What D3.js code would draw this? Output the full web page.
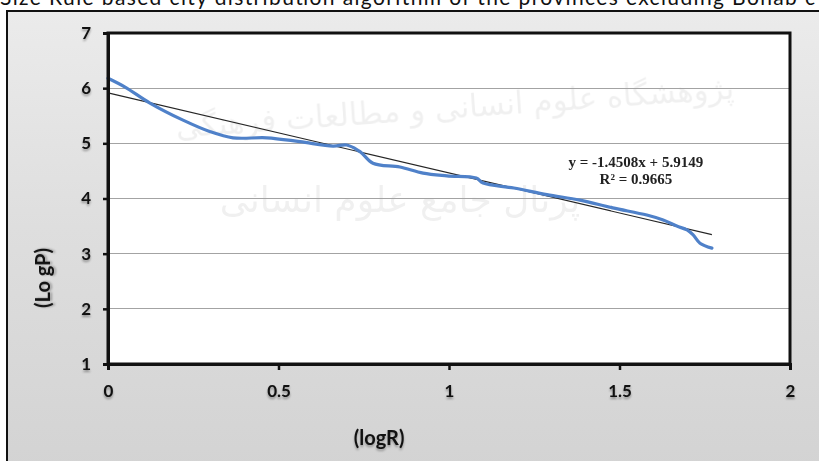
<!DOCTYPE html>
<html><head><meta charset="utf-8">
<script src="https://cdn.jsdelivr.net/npm/d3@7"></script>
<style>
html,body{margin:0;padding:0;background:#fff;overflow:hidden}
svg{display:block}
.tick text{font-family:Lato,"Open Sans",sans-serif;font-weight:700;font-size:17px;fill:#111;filter:drop-shadow(0 2px 1px rgba(0,0,0,0.35))}
</style></head><body>
<svg id="c" width="819" height="461"></svg>
<script>
// ---- data ----
const logR = [0, 0.05, 0.123, 0.22, 0.30, 0.367, 0.466, 0.563, 0.66, 0.70, 0.739, 0.777, 0.856, 0.924, 0.994, 1.08, 1.10, 1.19, 1.287, 1.384, 1.48, 1.58, 1.628, 1.668, 1.698, 1.716, 1.736, 1.771];
const logP = [6.18, 6.02, 5.73, 5.42, 5.21, 5.10, 5.10, 5.03, 4.95, 4.97, 4.85, 4.64, 4.57, 4.46, 4.41, 4.37, 4.28, 4.19, 4.07, 3.97, 3.83, 3.70, 3.61, 3.50, 3.43, 3.34, 3.19, 3.10];
const trendX = [0, 1.771];
const trendY = [5.915, 3.345];
const xTicks = [0, 0.5, 1, 1.5, 2];
const yTicks = [1, 2, 3, 4, 5, 6, 7];
const gridValues = [2, 3, 4, 5, 6];
const equationLines = ["y = -1.4508x + 5.9149", "R² = 0.9665"];
const xTitle = "(logR)";
const yTitle = "(Lo gP)";
const captionText = "Size Rule based city distribution algorithm of the provinces excluding Bonab c";
const watermark1 = "پژوهشگاه علوم انسانی و مطالعات فرهنگی";
const watermark2 = "پرتال جامع علوم انسانی";

// ---- layout ----
const W = 819, H = 461;
const plot = {left: 108, right: 790, top: 33, bottom: 364};
const svg = d3.select("#c");

const x = d3.scaleLinear().domain([0, 2]).range([plot.left, plot.right]);
const y = d3.scaleLinear().domain([1, 7]).range([plot.bottom, plot.top]);

// defs: gradient for chart area
const defs = svg.append("defs");
const g1 = defs.append("linearGradient").attr("id", "bg").attr("x1", 0).attr("y1", 0).attr("x2", 0).attr("y2", 1);
g1.append("stop").attr("offset", "0%").attr("stop-color", "#ebebeb");
g1.append("stop").attr("offset", "45%").attr("stop-color", "#dedede");
g1.append("stop").attr("offset", "100%").attr("stop-color", "#d2d2d2");

// caption (cut off at top, as in the source)
svg.append("text").attr("x", 0).attr("y", 4.5)
  .attr("textLength", 815).attr("lengthAdjust", "spacing")
  .style("font-family", "Lato, 'Open Sans', sans-serif").style("font-size", "21px").style("fill", "#111")
  .text(captionText);

// chart area
svg.append("rect").attr("x", 7).attr("y", 11).attr("width", W + 20).attr("height", H + 20)
  .attr("fill", "url(#bg)").attr("stroke", "#111").attr("stroke-width", 2);

// plot area
svg.append("rect").attr("x", plot.left).attr("y", plot.top)
  .attr("width", plot.right - plot.left).attr("height", plot.bottom - plot.top)
  .attr("fill", "#fff");

// watermark (faint)
const wm = svg.append("g").style("font-family", "'DejaVu Sans', sans-serif").style("fill", "#000").style("opacity", 0.06)
  .attr("text-anchor", "middle").attr("direction", "rtl");
wm.append("text").attr("x", 455).attr("y", 118).style("font-size", "31px").attr("transform", "rotate(-4 455 110)").text(watermark1);
wm.append("text").attr("x", 400).attr("y", 212).style("font-size", "36px").text(watermark2);

// gridlines
svg.append("g").selectAll("line").data(gridValues).join("line")
  .attr("x1", plot.left).attr("x2", plot.right)
  .attr("y1", d => y(d)).attr("y2", d => y(d))
  .attr("stroke", "#a3a3a3").attr("stroke-width", 1).attr("shape-rendering", "crispEdges");

// trendline
svg.append("path")
  .datum(trendX.map((d, i) => [d, trendY[i]]))
  .attr("d", d3.line().x(d => x(d[0])).y(d => y(d[1])))
  .attr("fill", "none").attr("stroke", "#262626").attr("stroke-width", 1.1);

// data line
svg.append("path")
  .datum(logR.map((d, i) => [d, logP[i]]))
  .attr("d", d3.line().x(d => x(d[0])).y(d => y(d[1])).curve(d3.curveCatmullRom.alpha(0.5)))
  .attr("fill", "none").attr("stroke", "#4f81c9").attr("stroke-width", 3.2)
  .attr("stroke-linejoin", "round").attr("stroke-linecap", "round");

// plot border (top/right)
svg.append("rect").attr("x", plot.left).attr("y", plot.top)
  .attr("width", plot.right - plot.left).attr("height", plot.bottom - plot.top)
  .attr("fill", "none").attr("stroke", "#111").attr("stroke-width", 3);

// axes
const xAxis = svg.append("g").attr("transform", `translate(0,${plot.bottom})`)
  .call(d3.axisBottom(x).tickValues(xTicks).tickFormat(d3.format("")).tickSize(6).tickPadding(15));
const yAxis = svg.append("g").attr("transform", `translate(${plot.left},0)`)
  .call(d3.axisLeft(y).tickValues(yTicks).tickFormat(d3.format("d")).tickSize(5).tickPadding(12));
[xAxis, yAxis].forEach(a => {
  a.select(".domain").attr("stroke", "#111").attr("stroke-width", 3);
  a.selectAll(".tick line").attr("stroke", "#111").attr("stroke-width", 2.5);
});

// equation
const eq = svg.append("text").attr("text-anchor", "middle")
  .style("font-family", "'Liberation Serif', 'Times New Roman', serif").style("font-size", "15px")
  .style("font-weight", "700").style("fill", "#222");
eq.selectAll("tspan").data(equationLines).join("tspan")
  .attr("x", x(1.548)).attr("y", (d, i) => y(4.57) + i * 16.5).text(d => d);

// axis titles
svg.append("text").attr("x", x(0.795)).attr("y", 445).attr("text-anchor", "middle")
  .style("font-family", "Lato, 'Open Sans', sans-serif").style("font-weight", "700").style("font-size", "20px").style("fill", "#111")
  .style("filter", "drop-shadow(0 2px 1px rgba(0,0,0,0.3))")
  .text(xTitle);
svg.append("text").attr("transform", `translate(50,${y(2.56)}) rotate(-90)`).attr("text-anchor", "middle")
  .style("font-family", "Lato, 'Open Sans', sans-serif").style("font-weight", "700").style("font-size", "20px").style("fill", "#111")
  .style("filter", "drop-shadow(0 2px 1px rgba(0,0,0,0.3))")
  .text(yTitle);
</script>
</body></html>
